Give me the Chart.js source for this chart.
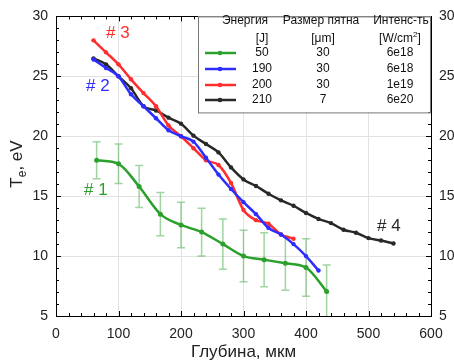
<!DOCTYPE html>
<html>
<head>
<meta charset="utf-8">
<script src="https://cdn.jsdelivr.net/npm/chart.js@4/dist/chart.umd.min.js"></script>
<style>
  html, body { margin: 0; padding: 0; background: #fff; }
  #wrap { width: 454px; height: 361px; }
</style>
</head>
<body>
<div id="wrap"><canvas id="graficoTe" width="454" height="361"></canvas></div>
<script>
// Данные
const depthGreen = [65, 100, 133, 167, 200, 233, 267, 300, 333, 367, 400, 433];
const teGreen = [18.0, 17.7, 15.8, 13.5, 12.6, 12.0, 11.0, 10.0, 9.7, 9.4, 9.05, 7.05];
const errGreen = [1.55, 1.65, 1.75, 1.8, 1.9, 2.0, 2.1, 2.15, 2.25, 2.25, 2.4, 2.2];

const depthBlue = [60, 80, 100, 120, 140, 160, 180, 200, 220, 240, 260, 280, 300, 320, 340, 360, 380, 400, 420];
const teBlue = [26.4, 25.7, 25.0, 23.5, 22.5, 21.5, 20.5, 20.0, 19.55, 18.2, 16.8, 15.6, 14.5, 13.5, 12.35, 11.8, 11.0, 10.0, 8.8];

const depthRed = [60, 80, 100, 120, 140, 160, 180, 200, 220, 240, 260, 280, 300, 320, 340, 360, 380];
const teRed = [28.0, 27.0, 26.0, 24.75, 23.6, 22.5, 20.9, 20.0, 19.0, 18.0, 17.6, 16.1, 13.85, 13.0, 12.7, 11.8, 11.45];

const depthBlack = [60, 80, 100, 120, 140, 160, 180, 200, 220, 240, 260, 280, 300, 320, 340, 360, 380, 400, 420, 440, 460, 480, 500, 520, 540];
const teBlack = [26.5, 26.0, 25.0, 24.0, 22.5, 22.15, 21.55, 21.05, 20.05, 19.35, 18.65, 17.4, 16.4, 15.85, 15.2, 14.65, 14.2, 13.6, 13.1, 12.75, 12.2, 11.95, 11.5, 11.3, 11.05];

const xTicks = [0, 100, 200, 300, 400, 500, 600];
const yTicks = [5, 10, 15, 20, 25, 30];

// легенда-таблица
const legendHead = ['Энергия', 'Размер пятна', 'Интенс-ть'];
const legendEnergy = ['50', '190', '200', '210'];
const legendSpot = ['30', '30', '30', '7'];
const legendIntens = ['6e18', '6e18', '1e19', '6e20'];

const labelsSeries = ['# 1', '# 2', '# 3', '# 4'];

const cores = {
    verde: 'rgb(44,160,44)',
    verdeClaro: 'rgba(44,160,44,0.45)',
    azul: 'rgb(45,45,255)',
    vermelho: 'rgb(255,45,45)',
    preto: 'rgb(40,40,40)'
};
const FONTE = '"Liberation Sans", Arial, sans-serif';

function pontos(xs, ys) {
    return xs.map((x, i) => ({ x: x, y: ys[i] }));
}

// Барры ошибок, тики, подписи и легенда
const extras = {
    id: 'extras',
    beforeDatasetsDraw(chart) {
        const ctx = chart.ctx;
        const xs = chart.scales.x, ys = chart.scales.y;
        const area = chart.chartArea;
        ctx.save();
        ctx.beginPath();
        ctx.rect(area.left, area.top, area.right - area.left, area.bottom - area.top);
        ctx.clip();
        ctx.strokeStyle = cores.verdeClaro;
        ctx.lineWidth = 1.5;
        depthGreen.forEach((d, i) => {
            const px = xs.getPixelForValue(d);
            const top = ys.getPixelForValue(teGreen[i] + errGreen[i]);
            const bot = ys.getPixelForValue(teGreen[i] - errGreen[i]);
            ctx.beginPath();
            ctx.moveTo(px, top); ctx.lineTo(px, bot);
            ctx.moveTo(px - 4, top); ctx.lineTo(px + 4, top);
            ctx.moveTo(px - 4, bot); ctx.lineTo(px + 4, bot);
            ctx.stroke();
        });
        ctx.restore();
    },
    afterDatasetsDraw(chart) {
        const ctx = chart.ctx;
        const xs = chart.scales.x, ys = chart.scales.y;
        const a = chart.chartArea;
        ctx.save();
        // засечки внутрь
        ctx.strokeStyle = '#000';
        ctx.lineWidth = 1;
        ctx.beginPath();
        for (let v = 0; v <= 600; v += 20) {
            const px = Math.round(xs.getPixelForValue(v)) + 0.5;
            const len = v % 100 === 0 ? 5 : 3;
            ctx.moveTo(px, a.bottom); ctx.lineTo(px, a.bottom - len);
            ctx.moveTo(px, a.top); ctx.lineTo(px, a.top + len);
        }
        for (let v = 5; v <= 30; v += 1) {
            const py = Math.round(ys.getPixelForValue(v)) + 0.5;
            const len = v % 5 === 0 ? 5 : 3;
            ctx.moveTo(a.left, py); ctx.lineTo(a.left + len, py);
            ctx.moveTo(a.right, py); ctx.lineTo(a.right - len, py);
        }
        ctx.stroke();

        // подписи серий
        ctx.font = '17px ' + FONTE;
        ctx.textBaseline = 'middle';
        ctx.textAlign = 'left';
        ctx.fillStyle = cores.verde; ctx.fillText(labelsSeries[0], 84, 190);
        ctx.fillStyle = cores.azul; ctx.fillText(labelsSeries[1], 86, 86);
        ctx.fillStyle = cores.vermelho; ctx.fillText(labelsSeries[2], 106, 33);
        ctx.fillStyle = cores.preto; ctx.fillText(labelsSeries[3], 377, 226);

        // названия осей
        ctx.fillStyle = '#222';
        ctx.font = '17px ' + FONTE;
        ctx.textAlign = 'center';
        ctx.textBaseline = 'alphabetic';
        ctx.fillText('Глубина, мкм', (a.left + a.right) / 2, 357);
        ctx.save();
        ctx.translate(22, 164);
        ctx.rotate(-Math.PI / 2);
        ctx.textAlign = 'left';
        ctx.font = '17px ' + FONTE;
        const wT = ctx.measureText('T').width;
        ctx.font = '12px ' + FONTE;
        const wE = ctx.measureText('e').width;
        ctx.font = '17px ' + FONTE;
        const wR = ctx.measureText(', eV').width;
        let x0 = -(wT + wE + wR) / 2;
        ctx.fillText('T', x0, 0);
        ctx.font = '12px ' + FONTE;
        ctx.fillText('e', x0 + wT, 4);
        ctx.font = '17px ' + FONTE;
        ctx.fillText(', eV', x0 + wT + wE, 0);
        ctx.restore();

        // легенда
        const lx = 198, ly = a.top, lw = a.right - 198, lh = 96;
        ctx.fillStyle = '#fff';
        ctx.fillRect(lx, ly, lw, lh);
        ctx.strokeStyle = '#777';
        ctx.lineWidth = 1;
        ctx.strokeRect(lx + 0.5, ly + 0.5, lw - 1, lh);
        ctx.fillStyle = '#111';
        ctx.font = '12px ' + FONTE;
        ctx.textBaseline = 'middle';
        ctx.textAlign = 'center';
        const colX = [245, 321, 401];
        const unitX = [262, 323, 400];
        const valX = [262, 323, 400];
        legendHead.forEach((h, i) => ctx.fillText(h, colX[i], 21));
        ctx.fillText('[J]', unitX[0], 39);
        ctx.fillText('[\u03bcm]', unitX[1], 39);
        const wcm = ctx.measureText('[W/cm').width;
        ctx.font = '8px ' + FONTE;
        const w2 = ctx.measureText('2').width;
        ctx.font = '12px ' + FONTE;
        const wb = ctx.measureText(']').width;
        let ux = unitX[2] - (wcm + w2 + wb) / 2;
        ctx.textAlign = 'left';
        ctx.fillText('[W/cm', ux, 39);
        ctx.font = '8px ' + FONTE;
        ctx.fillText('2', ux + wcm, 35);
        ctx.font = '12px ' + FONTE;
        ctx.fillText(']', ux + wcm + w2, 39);
        ctx.textAlign = 'center';
        const rowY = [53, 69, 85, 100];
        const corLinhas = [cores.verde, cores.azul, cores.vermelho, cores.preto];
        rowY.forEach((y, i) => {
            ctx.strokeStyle = corLinhas[i];
            ctx.lineWidth = 2.5;
            ctx.beginPath();
            ctx.moveTo(205, y); ctx.lineTo(236, y);
            ctx.stroke();
            ctx.fillStyle = corLinhas[i];
            ctx.beginPath();
            ctx.arc(220, y, 2.3, 0, Math.PI * 2);
            ctx.fill();
            ctx.fillStyle = '#111';
            ctx.fillText(legendEnergy[i], valX[0], y);
            ctx.fillText(legendSpot[i], valX[1], y);
            ctx.fillText(legendIntens[i], valX[2], y);
        });
        ctx.restore();
    }
};

function grafico(canvas = 'graficoTe') {
    const canvasElement = document.getElementById(canvas);
    if (!canvasElement) {
        console.error('canvas ' + canvas + ' не найден');
        return;
    }
    const serie = (dados, cor, raio, tensao) => ({
        data: dados,
        borderColor: cor,
        backgroundColor: cor,
        borderWidth: 2.5,
        pointRadius: raio,
        pointBorderWidth: 0,
        pointHoverRadius: raio,
        tension: tensao,
        cubicInterpolationMode: 'monotone',
        fill: false
    });
    const datasets = [
        serie(pontos(depthGreen, teGreen), cores.verde, 2.5, 0.4),
        serie(pontos(depthBlue, teBlue), cores.azul, 2.2, 0.3),
        serie(pontos(depthRed, teRed), cores.vermelho, 2.2, 0.3),
        serie(pontos(depthBlack, teBlack), cores.preto, 2.2, 0.3)
    ];
    const tickFont = { family: FONTE, size: 14 };
    new Chart(canvasElement.getContext('2d'), {
        type: 'line',
        data: { datasets: datasets },
        options: {
            responsive: false,
            animation: false,
            layout: { padding: 0 },
            scales: {
                x: {
                    type: 'linear', position: 'bottom', min: 0, max: 600,
                    afterBuildTicks: s => { s.ticks = xTicks.map(v => ({ value: v })); },
                    ticks: { font: tickFont, color: '#222', padding: 10, maxRotation: 0 },
                    grid: { color: '#e2e2e2', drawTicks: false, lineWidth: 1 },
                    border: { color: '#000', width: 1 },
                    afterFit: s => { s.height = 45; }
                },
                x2: {
                    type: 'linear', position: 'top', min: 0, max: 600,
                    ticks: { display: false },
                    grid: { drawOnChartArea: false, drawTicks: false },
                    border: { color: '#000', width: 1 },
                    afterFit: s => { s.height = 12; }
                },
                y: {
                    type: 'linear', position: 'left', min: 5, max: 30,
                    afterBuildTicks: s => { s.ticks = yTicks.map(v => ({ value: v })); },
                    ticks: { font: tickFont, color: '#222', padding: 8 },
                    grid: { color: '#e2e2e2', drawTicks: false, lineWidth: 1 },
                    border: { color: '#000', width: 1 },
                    afterFit: s => { s.width = 56; }
                },
                y2: {
                    type: 'linear', position: 'right', min: 5, max: 30,
                    afterBuildTicks: s => { s.ticks = yTicks.map(v => ({ value: v })); },
                    ticks: { font: tickFont, color: '#222', padding: 8 },
                    grid: { drawOnChartArea: false, drawTicks: false },
                    border: { color: '#000', width: 1 },
                    afterFit: s => { s.width = 23; }
                }
            },
            plugins: {
                legend: { display: false },
                tooltip: { enabled: false }
            }
        },
        plugins: [extras]
    });
}
grafico();
</script>
</body>
</html>
